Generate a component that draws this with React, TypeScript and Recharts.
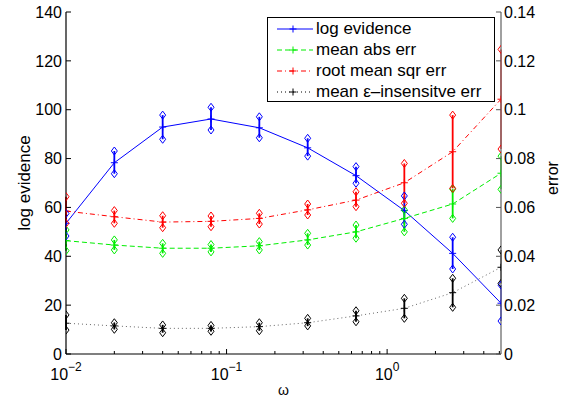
import React from 'react';
import { ComposedChart, Line, XAxis, YAxis, ErrorBar } from 'recharts';

// omega grid (log spaced, doubling)
const omega = [0.01, 0.02, 0.04, 0.08, 0.16, 0.32, 0.64, 1.28, 2.56, 5.12];

// log evidence (left axis)
const evidenceMean = [53.5, 78.3, 92.9, 96.2, 92.6, 84.4, 73.0, 58.7, 41.2, 20.8];
const evidenceHigh = [57.5, 83.1, 97.8, 101.0, 97.1, 88.3, 76.7, 64.7, 47.8, 28.2];
const evidenceLow = [48.3, 73.8, 87.9, 91.7, 88.5, 81.0, 69.9, 53.1, 34.8, 13.5];

// errors (right axis)
const absMean = [0.0464, 0.0446, 0.0433, 0.0433, 0.0443, 0.0467, 0.05, 0.0555, 0.0614, 0.074];
const absHigh = [0.0508, 0.0467, 0.0453, 0.0448, 0.046, 0.0494, 0.0528, 0.059, 0.0675, 0.081];
const absLow = [0.0423, 0.0426, 0.0412, 0.0418, 0.0426, 0.0446, 0.0474, 0.05, 0.0555, 0.0674];

const rmsMean = [0.0585, 0.0562, 0.054, 0.0543, 0.0555, 0.059, 0.063, 0.0701, 0.0828, 0.1043];
const rmsHigh = [0.0644, 0.0587, 0.0566, 0.0565, 0.0576, 0.0614, 0.0664, 0.078, 0.0978, 0.1247];
const rmsLow = [0.0535, 0.0535, 0.0517, 0.0521, 0.0532, 0.0569, 0.0603, 0.0617, 0.0678, 0.0839];

const epsMean = [0.0126, 0.0115, 0.0105, 0.0105, 0.0112, 0.0128, 0.0156, 0.0187, 0.0251, 0.0355];
const epsHigh = [0.016, 0.0128, 0.0119, 0.0117, 0.0128, 0.0146, 0.0177, 0.0228, 0.031, 0.0426];
const epsLow = [0.0098, 0.0101, 0.0087, 0.0093, 0.0095, 0.0115, 0.0132, 0.0146, 0.0191, 0.0289];

// tick labels
const xTicks = [0.01, 0.02, 0.03, 0.04, 0.05, 0.06, 0.07, 0.08, 0.09, 0.1, 0.2, 0.3, 0.4, 0.5, 0.6, 0.7, 0.8, 0.9, 1, 2, 3, 4, 5];
const leftTicks = [0, 20, 40, 60, 80, 100, 120, 140];
const rightTicks = [0, 0.02, 0.04, 0.06, 0.08, 0.1, 0.12, 0.14];

const FONT = '"Liberation Sans", Arial, Helvetica, sans-serif';

const data = omega.map((w, i) => ({
  w,
  ev: evidenceMean[i],
  evHi: evidenceHigh[i],
  evLo: evidenceLow[i],
  evErr: [evidenceMean[i] - evidenceLow[i], evidenceHigh[i] - evidenceMean[i]],
  abs: absMean[i],
  absHi: absHigh[i],
  absLo: absLow[i],
  absErr: [absMean[i] - absLow[i], absHigh[i] - absMean[i]],
  rms: rmsMean[i],
  rmsHi: rmsHigh[i],
  rmsLo: rmsLow[i],
  rmsErr: [rmsMean[i] - rmsLow[i], rmsHigh[i] - rmsMean[i]],
  eps: epsMean[i],
  epsHi: epsHigh[i],
  epsLo: epsLow[i],
  epsErr: [epsMean[i] - epsLow[i], epsHigh[i] - epsMean[i]],
}));

const series = [
  { key: 'ev', name: 'log evidence', color: '#0000ff', dash: undefined, axis: 'left' },
  { key: 'abs', name: 'mean abs err', color: '#00ee00', dash: '5 3', axis: 'right' },
  { key: 'rms', name: 'root mean sqr err', color: '#ff0000', dash: '5 3 1 3', axis: 'right' },
  { key: 'eps', name: 'mean \u03b5\u2013insensitve err', color: '#000000', dash: '1 3', axis: 'right' },
];

const plusDot = (color: string) => (props: any) => {
  const { cx, cy, index } = props;
  if (cx == null || cy == null) return <g key={index} />;
  return (
    <path
      key={index}
      d={`M${cx - 3.5},${cy}H${cx + 3.5}M${cx},${cy - 3.5}V${cy + 3.5}`}
      stroke={color}
      strokeWidth={1}
      fill="none"
    />
  );
};

const diamondDot = (color: string) => (props: any) => {
  const { cx, cy, index } = props;
  if (cx == null || cy == null) return <g key={index} />;
  return (
    <path
      key={index}
      d={`M${cx},${cy - 4}L${cx + 3},${cy}L${cx},${cy + 4}L${cx - 3},${cy}Z`}
      stroke={color}
      strokeWidth={1}
      fill="none"
    />
  );
};

const XTick = (props: any) => {
  const { x, y, payload } = props;
  const lg = Math.log10(payload.value);
  const exp = Math.round(lg);
  const major = Math.abs(lg - exp) < 1e-6;
  const expText = exp < 0 ? '\u2212' + Math.abs(exp) : String(exp);
  return (
    <g>
      <line x1={x} y1={y} x2={x} y2={y - (major ? 5 : 3)} stroke="#000" />
      {major && (
        <text x={x} y={y + 26} textAnchor="middle" fontSize={16} fontFamily={FONT} fill="#000">
          10
          <tspan dy={-9} fontSize={12}>{expText}</tspan>
        </text>
      )}
    </g>
  );
};

const LeftTick = (props: any) => {
  const { x, y, payload } = props;
  return (
    <g>
      <line x1={x} y1={y} x2={x + 5} y2={y} stroke="#000" />
      <text x={x - 4} y={y} dy="0.36em" textAnchor="end" fontSize={16} fontFamily={FONT} fill="#000">
        {payload.value}
      </text>
    </g>
  );
};

const RightTick = (props: any) => {
  const { x, y, payload } = props;
  return (
    <g>
      <line x1={x - 5} y1={y} x2={x} y2={y} stroke="#555" />
      <text x={x + 3} y={y} dy="0.36em" textAnchor="start" fontSize={16} fontFamily={FONT} fill="#000">
        {payload.value}
      </text>
    </g>
  );
};

const LeftTitle = (props: any) => {
  const { viewBox } = props;
  const x = viewBox.x + 30;
  const y = viewBox.y + viewBox.height / 2;
  return (
    <text x={x} y={y} transform={`rotate(-90, ${x}, ${y})`} textAnchor="middle" fontSize={17} fontFamily={FONT} fill="#000">
      log evidence
    </text>
  );
};

const RightTitle = (props: any) => {
  const { viewBox } = props;
  const x = viewBox.x + 57;
  const y = viewBox.y + viewBox.height / 2 - 5;
  return (
    <text x={x} y={y} transform={`rotate(-90, ${x}, ${y})`} textAnchor="middle" fontSize={16} fontFamily={FONT} fill="#000">
      error
    </text>
  );
};

const XTitle = (props: any) => {
  const { viewBox } = props;
  return (
    <text x={viewBox.x + viewBox.width / 2} y={viewBox.y + 41} textAnchor="middle" fontSize={14} fontFamily={FONT} fill="#000">
      {'\u03c9'}
    </text>
  );
};

const LegendBox = () => (
  <div
    style={{
      position: 'absolute',
      left: 267,
      top: 17,
      width: 228,
      height: 85,
      border: '1px solid #000',
      background: '#fff',
      paddingTop: 1,
      boxSizing: 'border-box',
      fontFamily: FONT,
      fontSize: 17,
    }}
  >
    {series.map((s) => (
      <div key={s.key} style={{ display: 'flex', alignItems: 'center', height: 20.8 }}>
        <svg width={48} height={20} style={{ flex: 'none' }}>
          <line x1={9} y1={10} x2={45} y2={10} stroke={s.color} strokeDasharray={s.dash} strokeWidth={1} />
          <path d="M21.5,10H28.5M25,6.5V13.5" stroke={s.color} strokeWidth={1} />
        </svg>
        <span style={{ whiteSpace: 'nowrap', lineHeight: '20px' }}>{s.name}</span>
      </div>
    ))}
  </div>
);

export default function App() {
  return (
    <div style={{ position: 'absolute', left: 0, top: 0, width: 571, height: 403, background: '#fff' }}>
      <ComposedChart width={571} height={403} data={data} margin={{ top: 12, right: 0, bottom: 0, left: 0 }}>
        <XAxis
          dataKey="w"
          type="number"
          scale="log"
          domain={[0.01, 5.12]}
          allowDataOverflow
          ticks={xTicks}
          interval={0}
          tick={<XTick />}
          tickLine={false}
          tickSize={0}
          tickMargin={0}
          height={49}
          axisLine={{ stroke: '#000', strokeWidth: 1.2 }}
          label={<XTitle />}
        />
        <XAxis
          xAxisId="top"
          orientation="top"
          dataKey="w"
          type="number"
          scale="log"
          domain={[0.01, 5.12]}
          allowDataOverflow
          height={0}
          tick={false}
          tickLine={false}
          axisLine={{ stroke: '#000', strokeWidth: 1.2 }}
        />
        <YAxis
          yAxisId="left"
          orientation="left"
          width={66}
          domain={[0, 140]}
          ticks={leftTicks}
          interval={0}
          tick={<LeftTick />}
          tickLine={false}
          tickSize={0}
          tickMargin={0}
          axisLine={{ stroke: '#000', strokeWidth: 1.2 }}
          label={<LeftTitle />}
        />
        <YAxis
          yAxisId="right"
          orientation="right"
          width={70}
          domain={[0, 0.14]}
          ticks={rightTicks}
          interval={0}
          tick={<RightTick />}
          tickLine={false}
          tickSize={0}
          tickMargin={0}
          axisLine={{ stroke: '#808080', strokeWidth: 1.5 }}
          label={<RightTitle />}
        />

        {series.map((s) => (
          <Line
            key={s.key}
            yAxisId={s.axis}
            dataKey={s.key}
            type="linear"
            stroke={s.color}
            strokeOpacity={s.key === 'eps' ? 0.6 : 1}
            strokeWidth={1}
            strokeDasharray={s.dash}
            dot={plusDot(s.color)}
            activeDot={false}
            isAnimationActive={false}
          >
            <ErrorBar dataKey={s.key + 'Err'} direction="y" width={0} stroke={s.color} strokeWidth={1.8} isAnimationActive={false} />
          </Line>
        ))}
        {series.map((s) => (
          <Line
            key={s.key + 'Hi'}
            yAxisId={s.axis}
            dataKey={s.key + 'Hi'}
            stroke="none"
            dot={diamondDot(s.color)}
            activeDot={false}
            isAnimationActive={false}
          />
        ))}
        {series.map((s) => (
          <Line
            key={s.key + 'Lo'}
            yAxisId={s.axis}
            dataKey={s.key + 'Lo'}
            stroke="none"
            dot={diamondDot(s.color)}
            activeDot={false}
            isAnimationActive={false}
          />
        ))}
      </ComposedChart>
      <LegendBox />
    </div>
  );
}
